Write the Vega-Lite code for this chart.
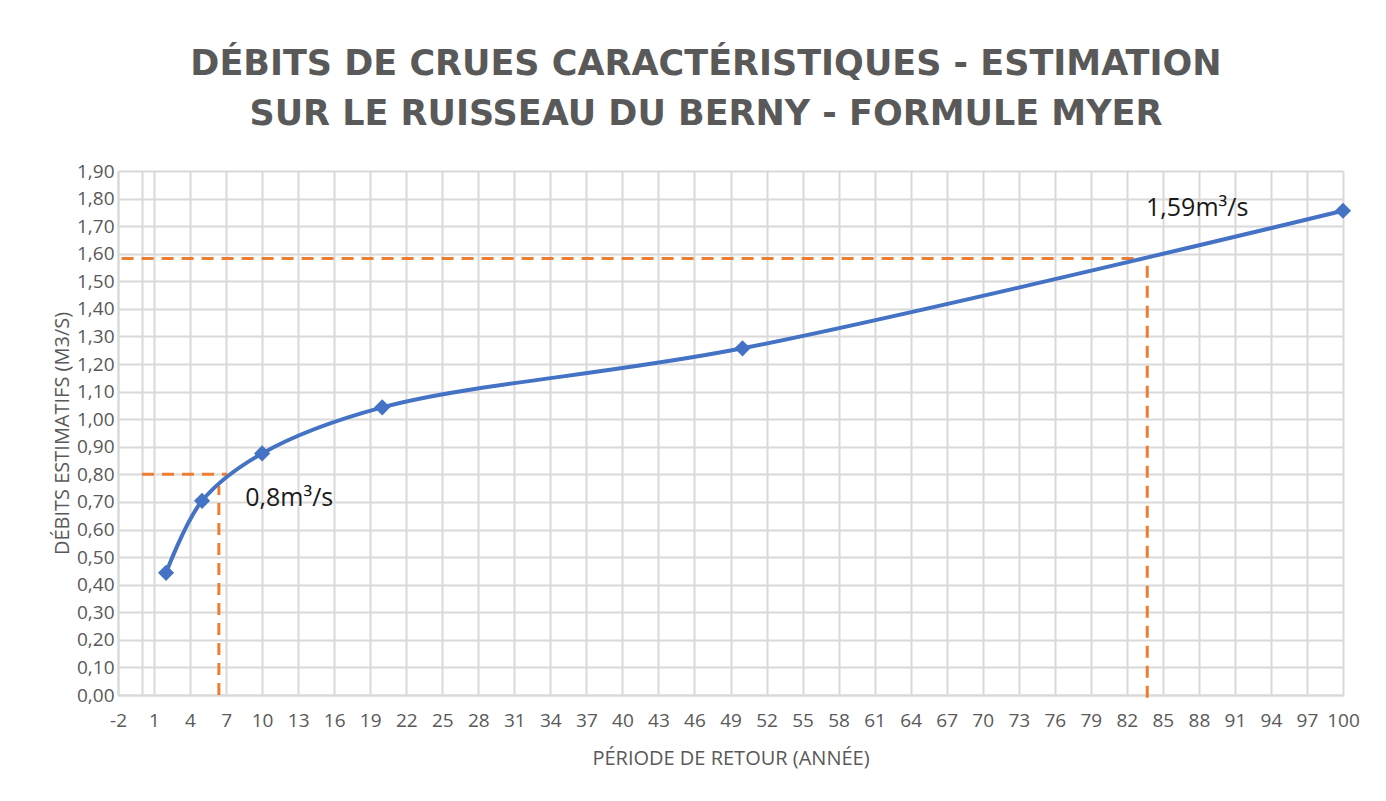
{
  "$schema": "https://vega.github.io/schema/vega-lite/v6.json",
  "autosize": {"type": "none"},
  "width": 1225,
  "height": 524,
  "padding": {"left": 118, "top": 171, "right": 43, "bottom": 106},
  "background": "white",
  "title": {
    "text": ["DÉBITS DE CRUES CARACTÉRISTIQUES - ESTIMATION", "SUR LE RUISSEAU DU BERNY - FORMULE MYER"],
    "font": "DejaVu Sans",
    "fontSize": 35,
    "fontWeight": "bold",
    "color": "#595959",
    "lineHeight": 50,
    "offset": 30,
    "anchor": "middle",
    "frame": "bounds"
  },
  "config": {
    "view": {"stroke": null},
    "axis": {
      "labelFont": "Open Sans",
      "titleFont": "Open Sans",
      "labelColor": "#595959",
      "titleColor": "#595959",
      "labelFontSize": 19,
      "titleFontSize": 20,
      "titleFontWeight": "normal",
      "gridColor": "#d9d9d9",
      "gridWidth": 2,
      "gridOpacity": 1,
      "domainColor": "#d9d9d9",
      "domainWidth": 2,
      "ticks": false,
      "tickCount": 200
    }
  },
  "datasets": {
    "series": [
      {"T": 2, "Q": 0.443},
      {"T": 5, "Q": 0.704},
      {"T": 10, "Q": 0.876},
      {"T": 20, "Q": 1.043},
      {"T": 50, "Q": 1.257},
      {"T": 100, "Q": 1.756}
    ],
    "guides": [
      {"x1": 0, "x2": 7.1, "y1": 0.8, "y2": 0.8},
      {"x1": 6.4, "x2": 6.4, "y1": 0, "y2": 0.76},
      {"x1": -1.7, "x2": 83.6, "y1": 1.583, "y2": 1.583},
      {"x1": 83.7, "x2": 83.7, "y1": -0.01, "y2": 1.583}
    ],
    "notes": [
      {"x": 8.6, "y": 0.714, "label": "0,8m³/s"},
      {"x": 83.6, "y": 1.766, "label": "1,59m³/s"}
    ]
  },
  "layer": [
    {
      "data": {"name": "guides"},
      "mark": {"type": "rule", "color": "#ED7D31", "strokeWidth": 3, "strokeDash": [12, 8]},
      "encoding": {
        "x": {
          "field": "x1", "type": "quantitative",
          "scale": {"domain": [-2, 100], "nice": false, "zero": false},
          "axis": {
            "title": "PÉRIODE DE RETOUR (ANNÉE)",
            "values": [-2, 0, 1, 4, 7, 10, 13, 16, 19, 22, 25, 28, 31, 34, 37, 40, 43, 46, 49, 52, 55, 58, 61, 64, 67, 70, 73, 76, 79, 82, 85, 88, 91, 94, 97, 100],
            "labelExpr": "datum.value == 0 ? '' : '' + datum.value",
            "labelPadding": 16,
            "titlePadding": 18,
            "labelOverlap": false,
            "labelFlush": false,
            "tickCount": 200
          }
        },
        "x2": {"field": "x2"},
        "y": {
          "field": "y1", "type": "quantitative",
          "scale": {"domain": [0, 1.9], "nice": false},
          "axis": {
            "title": "DÉBITS ESTIMATIFS (M3/S)",
            "values": [0, 0.1, 0.2, 0.3, 0.4, 0.5, 0.6, 0.7, 0.8, 0.9, 1.0, 1.1, 1.2, 1.3, 1.4, 1.5, 1.6, 1.7, 1.8, 1.9],
            "labelExpr": "replace(format(datum.value, '.2f'), '.', ',')",
            "labelPadding": 4,
            "titlePadding": 4,
            "labelOverlap": false,
            "tickCount": 200
          }
        },
        "y2": {"field": "y2"}
      }
    },
    {
      "data": {"name": "series"},
      "mark": {"type": "line", "color": "#4472C4", "strokeWidth": 4, "interpolate": "catmull-rom"},
      "encoding": {
        "x": {"field": "T", "type": "quantitative"},
        "y": {"field": "Q", "type": "quantitative"}
      }
    },
    {
      "data": {"name": "series"},
      "mark": {"type": "point", "shape": "diamond", "filled": true, "color": "#4472C4", "opacity": 1, "size": 260},
      "encoding": {
        "x": {"field": "T", "type": "quantitative"},
        "y": {"field": "Q", "type": "quantitative"}
      }
    },
    {
      "data": {"name": "notes"},
      "mark": {"type": "text", "align": "left", "baseline": "middle", "font": "Open Sans", "fontSize": 25, "color": "#1a1a1a"},
      "encoding": {
        "x": {"field": "x", "type": "quantitative"},
        "y": {"field": "y", "type": "quantitative"},
        "text": {"field": "label"}
      }
    }
  ]
}
